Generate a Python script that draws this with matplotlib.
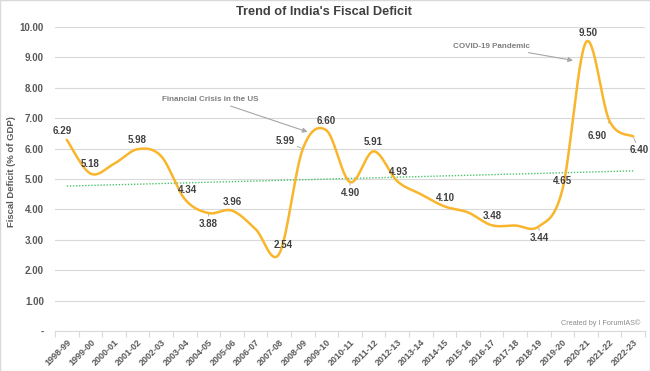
import numpy as np
import matplotlib.pyplot as plt
from matplotlib.patches import Rectangle

plt.rcParams['font.family'] = ['Liberation Sans', 'DejaVu Sans']

years = ['1998-99', '1999-00', '2000-01', '2001-02', '2002-03', '2003-04',
         '2004-05', '2005-06', '2006-07', '2007-08', '2008-09', '2009-10',
         '2010-11', '2011-12', '2012-13', '2013-14', '2014-15', '2015-16',
         '2016-17', '2017-18', '2018-19', '2019-20', '2020-21', '2021-22',
         '2022-23']
deficit = [6.29, 5.18, 5.50, 5.98, 5.75, 4.34, 3.88, 3.96, 3.35, 2.54,
           5.99, 6.60, 4.90, 5.91, 4.93, 4.50, 4.10, 3.90, 3.48, 3.47,
           3.44, 4.65, 9.50, 6.90, 6.40]
# which points carry a data label (unlabelled ones hidden in the original)
labelled = [True, True, False, True, False, True, True, True, False, True,
            True, True, True, True, True, False, True, False, True, False,
            True, True, True, True, True]
y_ticks = [0, 1, 2, 3, 4, 5, 6, 7, 8, 9, 10]

# label offsets in pixels (dx, dy up) and whether a leader line is drawn
label_offsets = {
    0: (-5, 9), 1: (0, 10), 3: (0, 9), 5: (3, 9), 6: (0, -11, True),
    7: (0, 9), 9: (4, 9), 10: (-18, 8, True), 11: (0, 9), 12: (0, -11, True),
    13: (0, 9), 14: (1, 9), 16: (1, 8), 18: (1, 9), 20: (1, -12, True),
    21: (0, 9), 22: (2, 9), 23: (-12, -15, True), 24: (6, -14, True),
}

LINE = '#F9B52C'
TEXT = '#404040'
TICK = '#595959'


def smooth(x, y, n=30):
    """Catmull-Rom style smoothing like Excel's smoothed line."""
    x = np.asarray(x, float)
    y = np.asarray(y, float)
    px = np.concatenate([[x[0]], x, [x[-1]]])
    py = np.concatenate([[y[0]], y, [y[-1]]])
    xs, ys = [], []
    t = np.linspace(0, 1, n)
    for i in range(1, len(px) - 2):
        p0 = np.array([px[i], py[i]])
        p3 = np.array([px[i + 1], py[i + 1]])
        c1 = p0 + (np.array([px[i + 1], py[i + 1]]) - np.array([px[i - 1], py[i - 1]])) / 6
        c2 = p3 - (np.array([px[i + 2], py[i + 2]]) - np.array([px[i], py[i]])) / 6
        b = ((1 - t) ** 3)[:, None] * p0 + (3 * (1 - t) ** 2 * t)[:, None] * c1 \
            + (3 * (1 - t) * t ** 2)[:, None] * c2 + (t ** 3)[:, None] * p3
        xs.append(b[:, 0])
        ys.append(b[:, 1])
    return np.concatenate(xs), np.concatenate(ys)


fig = plt.figure(figsize=(6.5, 3.71), dpi=100)
ax = fig.add_axes([55 / 650, 1 - 331 / 371, 590 / 650, 304 / 371])

x = np.arange(len(years))
sx, sy = smooth(x, deficit)
ax.plot(sx, sy, color=LINE, lw=1.8, zorder=3, solid_capstyle='round')

# linear trendline
coef = np.polyfit(x, deficit, 1)
ax.plot(x, np.polyval(coef, x), color='#4CC36A', lw=1.0, ls=(0, (1, 1.2)), zorder=2)

ax.set_xlim(-0.5, len(years) - 0.5)
ax.set_ylim(0, 10)
ax.set_yticks(y_ticks)
ax.set_yticklabels(['-' if v == 0 else f'{v:.2f}' for v in y_ticks],
                   fontsize=7, fontweight='bold', color=TICK)
ax.tick_params(axis='y', length=0, pad=8)
ax.grid(axis='y', color='#D9D9D9', lw=0.8)
ax.set_axisbelow(True)

ax.set_xticks(x)
ax.set_xticklabels(years, rotation=45, ha='right', rotation_mode='anchor',
                   fontsize=6.5, fontweight='bold', color=TICK)
ax.set_xticks(np.arange(-0.5, len(years)), minor=True)
ax.tick_params(axis='x', which='major', length=0, pad=5)
ax.tick_params(axis='x', which='minor', length=4, color='#D9D9D9', width=0.8)

for s in ['top', 'right', 'left']:
    ax.spines[s].set_visible(False)
ax.spines['bottom'].set_color('#D9D9D9')
ax.spines['bottom'].set_linewidth(0.8)

# data labels
for i, v in enumerate(deficit):
    if not labelled[i]:
        continue
    off = label_offsets[i]
    dx, dy = off[0], off[1]
    leader = len(off) > 2
    kw = dict(arrowprops=dict(arrowstyle='-', color='#A6A6A6', lw=0.6,
                              shrinkA=5, shrinkB=1)) if leader else {}
    ax.annotate(f'{v:.2f}', (i, v), xytext=(dx * 0.72, dy * 0.72),
                textcoords='offset points', ha='center', va='center',
                fontsize=7, fontweight='bold', color=TEXT, zorder=5, **kw)

# event annotations
ax.annotate('Financial Crisis in the US', xy=(10.2, 6.55), xytext=(4.05, 7.62),
            fontsize=5.8, fontweight='bold', color='#7F7F7F', va='center',
            arrowprops=dict(arrowstyle='-|>', color='#A6A6A6', lw=0.8,
                            mutation_scale=7, shrinkA=1, shrinkB=0))
ax.annotate('COVID-19 Pandemic', xy=(21.45, 8.9), xytext=(16.35, 9.37),
            fontsize=5.8, fontweight='bold', color='#7F7F7F', va='center',
            arrowprops=dict(arrowstyle='-|>', color='#A6A6A6', lw=0.8,
                            mutation_scale=7, shrinkA=1, shrinkB=0))

fig.text(324 / 650, 1 - 12 / 371, "Trend of India's Fiscal Deficit",
         ha='center', va='center', fontsize=9.2, fontweight='bold', color=TEXT)
fig.text(12 / 650, 1 - 172 / 371, 'Fiscal Deficit (% of GDP)', rotation=90,
         ha='center', va='center', fontsize=6.8, fontweight='bold', color=TICK)
fig.text(640 / 650, 1 - 323 / 371, 'Created by I ForumIAS\u00a9', ha='right',
         va='center', fontsize=5.2, color='#8C8C8C')

fig.patches.append(Rectangle((0, 0), 1, 1, transform=fig.transFigure,
                             fill=False, edgecolor='#D9D9D9', lw=1))

fig.savefig('out.png', dpi=100)
